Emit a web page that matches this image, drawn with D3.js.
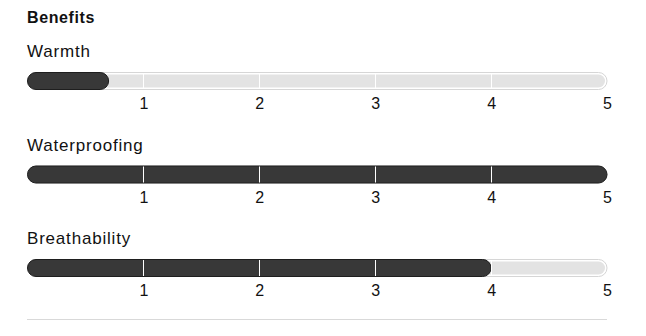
<!DOCTYPE html>
<html>
<head>
<meta charset="utf-8">
<script src="https://cdn.jsdelivr.net/npm/d3@7"></script>
<style>
  body { margin: 0; background: #fff; }
  text { font-family: "Liberation Sans", Arial, sans-serif; fill: #111; }
</style>
</head>
<body>
<div id="chart"></div>
<script>
// Data
const title = "Benefits";
const categories = ["Warmth", "Waterproofing", "Breathability"];
const values = [0.7, 5, 4];
const tickValues = [1, 2, 3, 4, 5];

const width = 646, height = 336;
const barH = 18, rowStep = 93.5, firstTop = 72;

const svg = d3.select("#chart").append("svg")
    .attr("width", width)
    .attr("height", height);

const x = d3.scaleLinear()
    .domain([0, 5])
    .range([27.5, 607]);

// Title
svg.append("text")
    .attr("x", 27)
    .attr("y", 23)
    .style("font-size", "16px")
    .style("font-weight", "bold")
    .style("letter-spacing", "0.6px")
    .text(title);

const rows = svg.selectAll(".row")
    .data(categories)
  .enter().append("g")
    .attr("class", "row")
    .attr("transform", (d, i) => "translate(0," + (firstTop + i * rowStep) + ")");

// Category label
rows.append("text")
    .attr("x", 27)
    .attr("y", -15)
    .style("font-size", "17px")
    .style("letter-spacing", "0.8px")
    .text(d => d);

// Track outline and fill
rows.append("rect")
    .attr("x", x(0))
    .attr("y", 0.5)
    .attr("width", x(5) - x(0))
    .attr("height", barH - 1)
    .attr("rx", (barH - 1) / 2)
    .style("fill", "#fff")
    .style("stroke", "#d6d6d6");
rows.append("rect")
    .attr("x", x(0) + 2)
    .attr("y", 2.5)
    .attr("width", x(5) - x(0) - 4)
    .attr("height", barH - 5)
    .attr("rx", (barH - 5) / 2)
    .style("fill", "#e3e3e3");

// Value bar
rows.append("rect")
    .attr("x", x(0))
    .attr("y", 0.5)
    .attr("width", (d, i) => x(values[i]) - x(0))
    .attr("height", barH - 1)
    .attr("rx", (barH - 1) / 2)
    .style("fill", "#383838")
    .style("stroke", "#1e1e1e");

// White separators at each unit
rows.selectAll(".sep")
    .data(tickValues.slice(0, -1))
  .enter().append("line")
    .attr("class", "sep")
    .attr("x1", d => Math.round(x(d)) + 0.5)
    .attr("x2", d => Math.round(x(d)) + 0.5)
    .attr("y1", 1)
    .attr("y2", barH - 1)
    .style("stroke", "#fff")
    .style("stroke-width", 1);

// Tick labels
rows.each(function() {
    const axis = d3.axisBottom(x)
        .tickValues(tickValues)
        .tickFormat(d3.format("d"))
        .tickSize(0)
        .tickPadding(0);
    const g = d3.select(this).append("g")
        .attr("transform", "translate(0," + (barH + 8) + ")")
        .call(axis);
    g.select(".domain").remove();
    g.selectAll("text")
        .attr("dy", "0.71em")
        .style("font-family", "'Liberation Sans', sans-serif")
        .style("font-size", "16px")
        .style("fill", "#111");
});

// Bottom rule
svg.append("line")
    .attr("x1", 27)
    .attr("x2", 607)
    .attr("y1", 319.5)
    .attr("y2", 319.5)
    .style("stroke", "#d9d9d9");
</script>
</body>
</html>
